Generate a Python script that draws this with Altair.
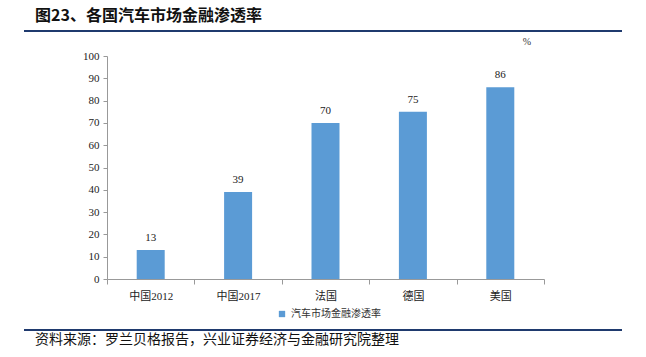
import altair as alt
import pandas as pd

categories = ["中国2012", "中国2017", "法国", "德国", "美国"]
values = [13, 39, 70, 75, 86]
series_name = "汽车市场金融渗透率"
title_text = "图23、各国汽车市场金融渗透率"
source_text = "资料来源：罗兰贝格报告，兴业证券经济与金融研究院整理"
unit_text = "%"
y_ticks = [0, 10, 20, 30, 40, 50, 60, 70, 80, 90, 100]

df = pd.DataFrame({"cat": categories, "val": values, "series": [series_name] * len(categories)})

SERIF = "Liberation Serif, Noto Sans CJK SC"
CJK = "Noto Sans CJK SC"
W, H = 437, 223

X = alt.X("cat:N", sort=categories, title=None,
          scale=alt.Scale(paddingInner=0, paddingOuter=0),
          axis=alt.Axis(labelAngle=0, tickBand="extent", tickSize=5, labelPadding=6,
                        domainColor="#999999", tickColor="#999999",
                        labelFont=SERIF, labelFontSize=11, labelColor="#222222"))
Y = alt.Y("val:Q", title=None,
          scale=alt.Scale(domain=[0, 100]),
          axis=alt.Axis(values=y_ticks, grid=False, tickSize=4,
                        labelOverlap=False,
                        domainColor="#999999", tickColor="#999999", labelPadding=4,
                        labelFont=SERIF, labelFontSize=11, labelColor="#222222"))

base = alt.Chart(df)

bars = base.mark_bar(size=28, color="#5B9BD5").encode(
    x=X, y=Y,
    color=alt.Color("series:N", scale=alt.Scale(range=["#5B9BD5"]), title=None,
                    legend=alt.Legend(orient="none", legendX=170, legendY=253,
                                      symbolType="square", symbolSize=40,
                                      labelFont=CJK, labelFontSize=10, labelColor="#333333")),
)

labels = base.mark_text(baseline="bottom", dy=-7, font=SERIF, fontSize=11, color="#222222").encode(
    x=X, y=Y, text=alt.Text("val:Q"),
)

# decorations (positions relative to plot origin at (107, 56))
top_line = alt.Chart(df).mark_rule(color="#1F3A6E", strokeWidth=2).encode(
    x=alt.value(24 - 107), x2=alt.value(622 - 107), y=alt.value(31 - 56))
bottom_line = alt.Chart(df).mark_rule(color="#1F3A6E", strokeWidth=2).encode(
    x=alt.value(24 - 107), x2=alt.value(622 - 107), y=alt.value(330 - 56))

title = alt.Chart(pd.DataFrame({"t": [title_text]})).mark_text(
    align="left", baseline="middle", font=CJK, fontSize=16, fontWeight="bold", color="#111111"
).encode(x=alt.value(35 - 107), y=alt.value(16 - 56), text="t:N")

unit = alt.Chart(pd.DataFrame({"t": [unit_text]})).mark_text(
    align="center", baseline="middle", font=SERIF, fontSize=10, color="#333333"
).encode(x=alt.value(527 - 107), y=alt.value(42 - 56), text="t:N")

source = alt.Chart(pd.DataFrame({"t": [source_text]})).mark_text(
    align="left", baseline="middle", font=CJK, fontSize=14, color="#111111"
).encode(x=alt.value(35 - 107), y=alt.value(340 - 56), text="t:N")

chart = alt.layer(bars, labels, top_line, bottom_line, title, unit, source).properties(
    width=W, height=H,
    autosize=alt.AutoSizeParams(type="none"),
    padding={"left": 107, "top": 56, "right": 646 - 107 - W, "bottom": 357 - 56 - H},
    background="white",
).configure_view(stroke=None)

chart.save("out.html", embed_options={"renderer": "svg", "actions": False})
